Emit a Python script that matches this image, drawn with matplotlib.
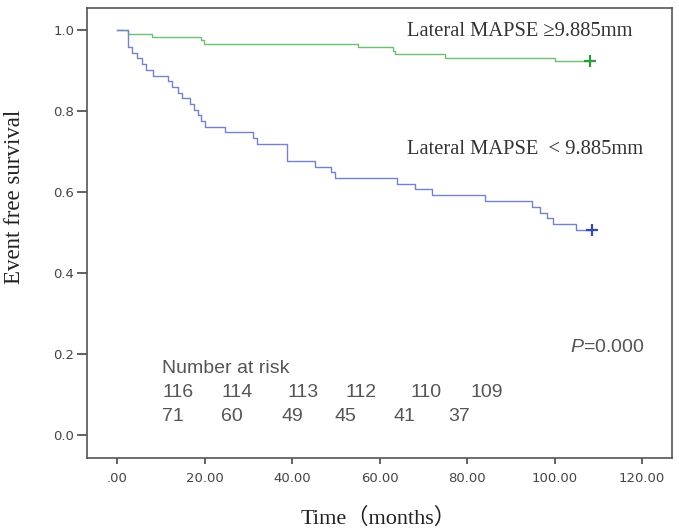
import matplotlib
matplotlib.use('Agg')
import matplotlib.pyplot as plt

# Kaplan-Meier curves (time in months, survival)
high_times = [0, 2.5, 8.0, 19.2, 19.8, 55.0, 63.0, 63.6, 75.0, 100.1]
high_surv = [1.0, 0.991, 0.983, 0.974, 0.966, 0.957, 0.948, 0.940, 0.931, 0.922]
high_end = 108.0

low_times = [0, 2.5, 3.4, 4.5, 5.6, 6.6, 8.3, 11.7, 12.5, 14.0, 14.8, 16.7, 17.5,
             18.5, 19.2, 20.0, 24.7, 31.0, 32.0, 38.9, 45.3, 49.0, 49.8, 63.9,
             68.1, 71.9, 84.0, 94.8, 96.7, 98.2, 99.7, 105.0]
low_surv = [1.0, 0.958, 0.944, 0.930, 0.915, 0.901, 0.887, 0.873, 0.859, 0.845,
            0.831, 0.817, 0.803, 0.789, 0.775, 0.761, 0.747, 0.733, 0.719, 0.677,
            0.662, 0.648, 0.634, 0.620, 0.606, 0.592, 0.577, 0.563, 0.549, 0.535,
            0.521, 0.506]
low_end = 108.5

risk_high = ['116', '114', '113', '112', '110', '109']
risk_low = ['71', '60', '49', '45', '41', '37']
risk_high_x = [10.3, 23.8, 38.9, 52.1, 67.0, 80.7]
risk_low_x = [10.3, 23.8, 37.5, 49.8, 63.3, 75.7]

x_ticks = [0, 20, 40, 60, 80, 100, 120]
x_labels = ['.00', '20.00', '40.00', '60.00', '80.00', '100.00', '120.00']
y_ticks = [0.0, 0.2, 0.4, 0.6, 0.8, 1.0]
y_labels = ['0.0', '0.2', '0.4', '0.6', '0.8', '1.0']

green = '#6cc070'
blue = '#7483c9'
plt.rcParams['mathtext.fontset'] = 'custom'
plt.rcParams['mathtext.it'] = 'Liberation Sans:italic'
plt.rcParams['mathtext.rm'] = 'Liberation Sans'

fig = plt.figure(figsize=(6.79, 5.32), dpi=100)
ax = fig.add_axes([0.128, 0.139, 0.862, 0.846])

ax.step(high_times + [high_end], high_surv + [high_surv[-1]], where='post',
        color=green, lw=1.0)
ax.plot([high_end], [high_surv[-1]], marker='+', color='#2f9a3c', ms=8, mew=1.6)
ax.step(low_times + [low_end], low_surv + [low_surv[-1]], where='post',
        color=blue, lw=1.0)
ax.plot([low_end], [low_surv[-1]], marker='+', color='#3648a8', ms=8, mew=1.6)

ax.set_xlim(-6.9, 126.9)
ax.set_ylim(-0.057, 1.054)
ax.set_xticks(x_ticks)
ax.set_xticklabels(x_labels)
ax.set_yticks(y_ticks)
ax.set_yticklabels(y_labels)
ax.tick_params(axis='x', length=4, width=1.3, color='#555555', labelsize=9.5,
               labelcolor='#444444', pad=6)
ax.tick_params(axis='y', length=7, width=1.3, color='#555555', labelsize=9.5,
               labelcolor='#444444', pad=2)
for s in ax.spines.values():
    s.set_color('#555555')
    s.set_linewidth(1.2)

fig.text(0.022, 0.63, 'Event free survival', family='Liberation Serif',
         fontsize=16.5, color='#222222', rotation=90, ha='center', va='center')
fig.text(0.557, 0.025, 'Time（months）', family=['Liberation Serif', 'Noto Sans CJK SC'],
         fontsize=16, color='#222222', ha='center', va='center')

ax.text(66.3, 0.995, 'Lateral MAPSE \u22659.885mm', family='Liberation Serif',
        fontsize=14.8, color='#333333', va='center')
ax.text(66.3, 0.704, 'Lateral MAPSE  < 9.885mm', family='Liberation Serif',
        fontsize=14.8, color='#333333', va='center')

ax.text(103.5, 0.217, r'$\mathit{P}$=0.000', family='Liberation Sans',
        fontsize=14, color='#555555', va='center')

ax.text(10.3, 0.165, 'Number at risk', family='Liberation Sans', fontsize=14,
        color='#555555', va='center')
for xv, lab in zip(risk_high_x, risk_high):
    ax.text(xv, 0.105, lab, family='Liberation Sans', fontsize=14,
            color='#555555', va='center')
for xv, lab in zip(risk_low_x, risk_low):
    ax.text(xv, 0.046, lab, family='Liberation Sans', fontsize=14,
            color='#555555', va='center')

fig.savefig('out.png', dpi=100)
